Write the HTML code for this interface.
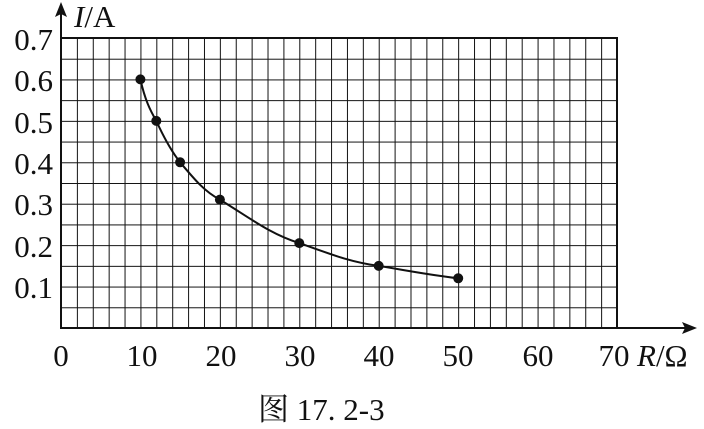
<!DOCTYPE html>
<html><head><style>body{margin:0;background:#fff}svg{display:block}</style></head><body>
<svg width="704" height="429" xmlns="http://www.w3.org/2000/svg" font-family="Liberation Serif, serif">
<defs><pattern id="g" x="61" y="38" width="15.886" height="20.714" patternUnits="userSpaceOnUse">
<path d="M0 0V20.714M0 0H15.886" stroke="#111" stroke-width="2" fill="none"/></pattern></defs>
<rect x="61" y="38" width="556" height="290" fill="url(#g)"/>
<rect x="61" y="38" width="556" height="290" fill="none" stroke="#111" stroke-width="2"/>
<line x1="61" y1="328" x2="685" y2="328" stroke="#111" stroke-width="2"/>
<polygon points="697,328 682,322 685,328 682,334" fill="#111"/>
<line x1="61" y1="328" x2="61" y2="14" stroke="#111" stroke-width="2"/>
<polygon points="61,2 55,17 61,14 67,17" fill="#111"/>
<path d="M140.4 79.4 C145 100 150 110 156.3 120.9 C165 140 172 152 180.1 162.3 C195 180 205 192 219.9 199.6 C250 218 270 234 299.3 243.1 C330 254 350 262 378.7 265.9 C410 271 430 275 458.2 278.3" fill="none" stroke="#111" stroke-width="2"/>
<g fill="#111">
<circle cx="140.4" cy="79.4" r="5"/><circle cx="156.3" cy="120.9" r="5"/><circle cx="180.1" cy="162.3" r="5"/><circle cx="219.9" cy="199.6" r="5"/><circle cx="299.3" cy="243.1" r="5"/><circle cx="378.7" cy="265.9" r="5"/><circle cx="458.2" cy="278.3" r="5"/>
</g>
<g font-size="31" fill="#111" text-anchor="end">
<text x="53" y="50">0.7</text><text x="53" y="91">0.6</text><text x="53" y="133">0.5</text><text x="53" y="174">0.4</text><text x="53" y="215">0.3</text><text x="53" y="257">0.2</text><text x="53" y="298">0.1</text>
</g>
<g font-size="31" fill="#111" text-anchor="middle">
<text x="61" y="366">0</text><text x="142" y="366">10</text><text x="221" y="366">20</text><text x="300" y="366">30</text><text x="379" y="366">40</text><text x="458" y="366">50</text><text x="538" y="366">60</text><text x="614" y="366">70</text>
</g>
<text x="637" y="366" font-size="31" fill="#111"><tspan font-style="italic">R</tspan>/Ω</text>
<text x="74" y="27" font-size="31" fill="#111"><tspan font-style="italic">I</tspan>/A</text>
<text x="258" y="420" font-size="31" fill="#111" font-family="Liberation Serif, Noto Serif CJK SC, serif">图 17. 2-3</text>
</svg>
</body></html>
